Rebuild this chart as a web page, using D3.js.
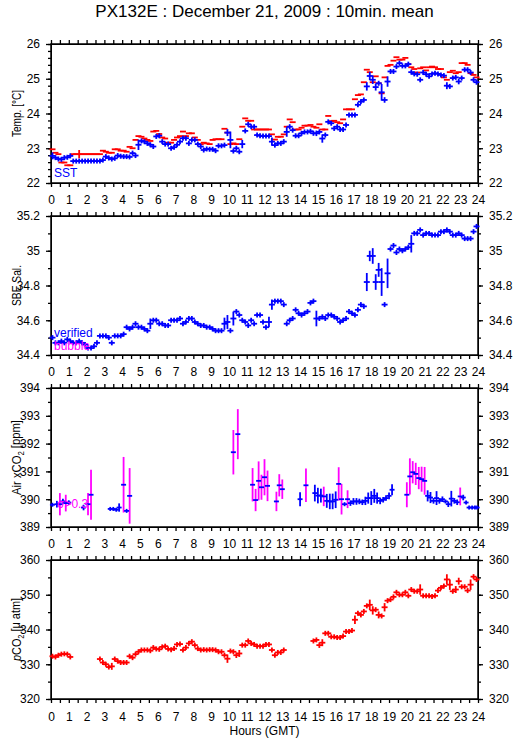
<!DOCTYPE html>
<html>
<head>
<meta charset="utf-8">
<script src="https://cdn.jsdelivr.net/npm/d3@7"></script>
<style>
  body { margin: 0; background: #fff; }
  svg { display: block; font-family: "Liberation Sans", Arial, sans-serif; }
</style>
</head>
<body>
<div id="chart"></div>
<script>
// 10 min means, one value per interval starting at 00:00 (6 per hour)
const sst = [
  22.78, 22.73, 22.69, 22.68, 22.73, 22.74,
  22.78, 22.63, 22.63, 22.63, 22.63, 22.63,
  22.63, 22.63, 22.63, 22.63, 22.63, 22.66,
  22.76, 22.72, 22.69, 22.71, 22.79, 22.77,
  22.76, 22.76, 22.75, 22.86, 22.79, 23.10,
  23.21, 23.19, 23.14, 23.10, 23.05, 23.34,
  23.36, 23.19, 23.12, 23.12, 23.00, 23.03,
  23.10, 23.19, 23.29, 23.29, 23.14, 23.24,
  23.24, 23.12, 23.05, 22.95, 22.98, 22.97,
  22.97, 22.93, 23.07, 23.07, 23.09, 23.45,
  23.24, 22.92, 23.00, 22.90, 23.12, 23.50,
  23.69, 23.62, 23.62, 23.38, 23.36, 23.35,
  23.35, 23.35, 23.19, 23.09, 23.14, 23.14,
  23.19, 23.47, 23.62, 23.52, 23.36, 23.36,
  23.43, 23.47, 23.47, 23.49, 23.43, 23.43,
  23.47, 23.28, 23.38, 23.76, 23.72, 23.57,
  23.62, 23.54, 23.54, 23.67, 23.96, 23.96,
  23.96, 24.25, 24.34, 24.39, 24.78, 25.08,
  24.97, 24.76, 24.87, 24.61, 24.39, 24.92,
  25.21, 25.21, 25.35, 25.45, 25.37, 25.37,
  25.42, 25.19, 25.14, 25.13, 24.97, 25.18,
  25.13, 25.07, 25.14, 25.16, 25.14, 25.11,
  25.09, 24.80, 24.78, 25.02, 25.04, 24.92,
  25.02, 25.26, 25.26, 25.18, 24.97, 24.90
];
const sstErr = [[0, 0.1], [29, 0.15], [59, 0.1], [60, 0.24], [64, 0.12], [74, 0.12],
  [79, 0.14], [89, 0.08], [91, 0.12], [106, 0.12], [107, 0.12], [108, 0.12],
  [109, 0.1], [111, 0.24], [112, 0.08], [113, 0.15], [133, 0.1], [137, 0.08]];

const equTemp = [
  22.97, 22.87, 22.83, 22.59, 22.59, 22.51,
  22.51, 22.83, 22.83, 22.83, 22.83, 22.83,
  22.83, 22.83, 22.83, 22.83, 22.83, 22.93,
  22.90, 22.87, 22.87, 22.97, 22.97, 22.93,
  22.93, 22.90, 23.04, 23.00, 23.24, 23.35,
  23.33, 23.28, 23.24, 23.21, 23.48, 23.50,
  23.41, 23.31, 23.28, 23.16, 23.16, 23.24,
  23.31, 23.35, 23.48, 23.35, 23.43, 23.43,
  23.31, 23.24, 23.12, 23.16, 23.14, 23.12,
  23.24, 23.26, 23.26, 23.26, 23.56, 23.45,
  23.12, 23.14, 23.12, 23.26, 23.62, 23.86,
  23.79, 23.79, 23.54, 23.54, 23.54, 23.54,
  23.54, 23.54, 23.40, 23.25, 23.33, 23.33,
  23.40, 23.62, 23.83, 23.75, 23.54, 23.54,
  23.59, 23.65, 23.65, 23.67, 23.62, 23.59,
  23.69, 23.54, 23.54, 23.93, 23.78, 23.79,
  23.75, 23.72, 23.83, 24.12, 24.12, 24.12,
  24.41, 24.53, 24.55, 24.90, 25.26, 25.19,
  24.90, 25.07, 24.87, 24.58, 25.04, 25.37,
  25.40, 25.52, 25.62, 25.55, 25.55, 25.60,
  25.42, 25.33, 25.28, 25.18, 25.30, 25.33,
  25.24, 25.33, 25.35, 25.33, 25.28, 25.28,
  25.04, 24.97, 25.19, 25.23, 25.16, 25.19,
  25.45, 25.45, 25.40, 25.16, 25.11, 25.04
];
const equErr = [[9, 0.12]];

const salinity = [
  34.50, 34.47, 34.47, 34.48, 34.47, 34.49,
  34.48, 34.47, 34.47, 34.48, 34.47, 34.46,
  34.44, 34.44, 34.45, 34.47, 34.51, 34.51,
  34.51, 34.50, 34.47, 34.51, 34.51, 34.51,
  34.52, 34.56, 34.55, 34.56, 34.58, 34.56,
  34.56, 34.55, 34.54, 34.58, 34.60, 34.60,
  34.58, 34.58, 34.57, 34.57, 34.60, 34.60,
  34.60, 34.61, 34.58, 34.59, 34.61, 34.61,
  34.59, 34.58, 34.57, 34.57, 34.56, 34.56,
  34.55, 34.54, 34.54, 34.54, 34.58, 34.59,
  34.54, 34.61, 34.65, 34.63, 34.60, 34.59,
  34.57, 34.60, 34.58, 34.63, 34.63, 34.59,
  34.56, 34.59, 34.69, 34.71, 34.71, 34.71,
  34.69, 34.58, 34.60, 34.61, 34.66, 34.64,
  34.63, 34.64, 34.65, 34.70, 34.71, 34.61,
  34.61, 34.62, 34.61, 34.63, 34.63, 34.62,
  34.61, 34.59, 34.60, 34.61, 34.65, 34.64,
  34.63, 34.66, 34.69, 34.68, 34.82, 34.97,
  34.97, 34.82, 34.89, 34.82, 34.69, 34.87,
  35.01, 35.03, 34.99, 35.01, 35.00, 35.01,
  35.02, 35.04, 35.10, 35.10, 35.12, 35.09,
  35.10, 35.10, 35.09, 35.09, 35.09, 35.11,
  35.11, 35.12, 35.11, 35.09, 35.09, 35.10,
  35.09, 35.07, 35.07, 35.07, 35.11, 35.14
];
const salErr = [[33, 0.03], [58, 0.035], [59, 0.04], [61, 0.04], [73, 0.03], [74, 0.03],
  [89, 0.045], [106, 0.052], [107, 0.03], [108, 0.045], [109, 0.045], [110, 0.04],
  [111, 0.08], [113, 0.085], [121, 0.05]];

// air xCO2: hour, mean, std dev, bubble flag
const xco2Hours = [0.08, 0.33, 0.5, 0.67, 0.83, 1.0, 1.83, 2.08, 2.25, 3.33, 3.5, 3.67, 3.83,
  4.08, 4.25, 4.42, 10.25, 10.5, 11.33, 11.5, 11.67, 11.83, 12.0, 12.17, 12.67, 12.83, 13.0,
  14.0, 14.33, 14.83, 15.0, 15.17, 15.33, 15.5, 15.67, 15.83, 16.0, 16.17, 16.33, 16.5, 16.67,
  16.83, 17.0, 17.17, 17.33, 17.5, 17.67, 17.83, 18.0, 18.17, 18.33, 18.5, 18.67, 18.83, 19.0,
  19.17, 20.0, 20.17, 20.33, 20.5, 20.67, 20.83, 21.0, 21.17, 21.33, 21.5, 21.67, 21.83, 22.0,
  22.17, 22.33, 22.5, 22.67, 22.83, 23.0, 23.17, 23.33, 23.5, 23.67, 23.83, 23.95];
const xco2Values = [389.80, 389.82, 389.82, 389.92, 389.86, 389.88, 389.70, 389.82, 390.16,
  389.65, 389.65, 389.62, 389.70, 390.52, 389.58, 390.12, 391.69, 392.34, 390.52, 389.97,
  390.66, 390.43, 390.79, 390.48, 389.92, 390.50, 390.36, 390.00, 390.50, 390.22, 390.13,
  390.13, 390.10, 389.94, 389.92, 389.92, 389.98, 390.55, 390.00, 389.82, 390.00, 389.86,
  389.92, 389.92, 389.92, 389.89, 389.94, 390.04, 390.04, 390.12, 390.04, 389.94, 389.98,
  390.04, 390.12, 390.34, 390.16, 390.82, 390.97, 390.91, 390.76, 390.72, 390.66, 390.12,
  390.06, 389.94, 390.04, 389.94, 390.00, 389.92, 389.82, 390.02, 389.94, 389.89, 390.10,
  390.06, 389.88, 389.70, 389.70, 389.70, 389.70];
const xco2Sd = [0.05, 0.12, 0.4, 0.1, 0.3, 0.08, 0.1, 0.4, 0.9, 0.03, 0.05, 0.05, 0.15,
  1.0, 0.05, 1.0, 0.8, 0.9, 0.6, 0.4, 0.7, 0.45, 0.65, 0.55, 0.35, 0.4, 0.35, 0.25, 0.6,
  0.3, 0.28, 0.25, 0.35, 0.25, 0.28, 0.28, 0.3, 0.6, 0.55, 0.05, 0.32, 0.1, 0.12, 0.12,
  0.1, 0.1, 0.15, 0.2, 0.25, 0.25, 0.2, 0.12, 0.1, 0.1, 0.12, 0.2, 0.45, 0.65, 0.4, 0.4,
  0.4, 0.45, 0.5, 0.2, 0.2, 0.1, 0.25, 0.1, 0.1, 0.05, 0.1, 0.28, 0.1, 0.1, 0.32, 0.1,
  0.05, 0.05, 0.05, 0.05, 0.05];
const xco2Bubble = [0, 0, 1, 0, 1, 0, 0, 1, 1, 0, 0, 0, 0, 1, 0, 1, 1, 1, 1, 1, 1, 1, 1, 1,
  1, 1, 1, 0, 1, 0, 0, 0, 1, 0, 0, 0, 0, 1, 1, 0, 1, 0, 0, 0, 0, 0, 0, 0, 0, 0, 0, 0, 0, 0,
  0, 0, 1, 1, 1, 1, 1, 1, 1, 0, 0, 0, 0, 0, 0, 0, 0, 0, 0, 0, 1, 0, 0, 0, 0, 0, 0];

const pco2 = [
  332.3, 332.1, 332.6, 332.9, 333.0, 332.9,
  332.1, null, null, null, null, null,
  null, null, null, null, 331.5, 330.5,
  330.0, 329.2, 329.4, 331.5, 330.9, 330.5,
  330.5, 330.5, 332.3, 331.9, 332.9, 333.6,
  334.1, 334.1, 334.1, 333.9, 334.8, 334.4,
  334.3, 335.0, 335.2, 334.4, 334.2, 334.5,
  335.7, 335.8, 334.1, 334.8, 336.0, 336.5,
  335.5, 334.5, 334.1, 334.2, 334.1, 334.2,
  334.2, 334.1, 333.6, 333.6, 332.6, 331.6,
  333.8, 333.6, 332.6, 333.1, 335.5, 335.5,
  336.7, 336.0, 335.7, 335.2, 335.2, 335.2,
  335.7, 335.7, 334.1, 332.6, 333.4, 333.4,
  334.1, null, null, null, null, null,
  null, null, null, null, 336.7, 337.0,
  335.5, 336.2, 338.9, 338.9, 337.9, 337.9,
  337.7, 337.7, 338.1, 339.4, 339.4, 339.7,
  342.8, 344.7, 344.2, 345.2, 346.8, 347.1,
  345.5, 345.7, 344.2, 343.9, 346.4, 348.3,
  348.6, 349.4, 350.7, 350.0, 350.0, 350.7,
  349.7, 351.5, 351.0, 351.0, 351.5, 349.7,
  349.7, 349.7, 349.5, 349.7, 351.2, 352.0,
  352.5, 354.4, 352.9, 351.0, 351.5, 353.9,
  352.3, 352.3, 351.2, 352.9, 355.2, 354.4
];
const pco2Err = [[20, 1.0], [59, 1.2], [62, 0.8], [63, 1.0], [74, 0.6], [90, 0.8], [91, 1.0],
  [102, 1.2], [107, 1.5], [108, 1.2], [110, 1.0], [112, 1.2], [124, 1.5], [133, 1.5],
  [134, 1.5], [136, 1.0], [137, 1.0], [141, 1.5]];

const hourTicks = d3.range(0, 25);
const halfHourTicks = d3.range(0, 24.01, 0.5);

/** layout */
const width = 515;
const height = 739;
const panelH = 139;
const blue = "#0000ff", red = "#ff0000", magenta = "#ff00ff";

const svg = d3.select("#chart").append("svg")
  .attr("width", width).attr("height", height);

const x = d3.scaleLinear().domain([0, 24]).range([51, 478]);

const panels = [
  { top: 44, domain: [22, 26], major: d3.range(22, 26.01, 1), minor: d3.range(22, 26.01, 0.2),
    fmt: d3.format("d"), topLabels: false },
  { top: 216, domain: [34.4, 35.2], major: d3.range(34.4, 35.21, 0.2), minor: d3.range(34.4, 35.21, 0.1),
    fmt: (d) => String(+d.toFixed(1)), topLabels: true },
  { top: 388, domain: [389, 394], major: d3.range(389, 394.01, 1), minor: d3.range(389, 394.01, 0.5),
    fmt: d3.format("d"), topLabels: true },
  { top: 560, domain: [320, 360], major: d3.range(320, 360.01, 10), minor: d3.range(320, 360.01, 5),
    fmt: d3.format("d"), topLabels: true, bottomLabels: true }
];

panels.forEach((p) => {
  p.y = d3.scaleLinear().domain(p.domain).range([p.top + panelH, p.top]);
  const g = svg.append("g").attr("font-size", 12);

  // x ticks, top and bottom
  g.append("g").attr("transform", `translate(0,${p.top})`)
    .call(d3.axisTop(x).tickValues(halfHourTicks).tickSize(4).tickSizeOuter(0).tickFormat(""));
  g.append("g").attr("transform", `translate(0,${p.top + panelH})`)
    .call(d3.axisBottom(x).tickValues(halfHourTicks).tickSize(4).tickSizeOuter(0).tickFormat(""));
  if (p.topLabels) {
    g.append("g").attr("transform", `translate(0,${p.top})`)
      .call(d3.axisTop(x).tickValues(hourTicks).tickSize(0).tickPadding(12).tickFormat(d3.format("d")))
      .call((a) => a.select(".domain").remove());
  }
  if (p.bottomLabels) {
    g.append("g").attr("transform", `translate(0,${p.top + panelH})`)
      .call(d3.axisBottom(x).tickValues(hourTicks).tickSize(0).tickPadding(13).tickFormat(d3.format("d")))
      .call((a) => a.select(".domain").remove());
  }

  // y ticks, left and right
  g.append("g").attr("transform", `translate(${x(0)},0)`)
    .call(d3.axisLeft(p.y).tickValues(p.minor).tickSize(3).tickSizeOuter(0).tickFormat(""));
  g.append("g").attr("transform", `translate(${x(0)},0)`)
    .call(d3.axisLeft(p.y).tickValues(p.major).tickSize(5).tickSizeOuter(0).tickPadding(6).tickFormat(p.fmt));
  g.append("g").attr("transform", `translate(${x(24)},0)`)
    .call(d3.axisRight(p.y).tickValues(p.minor).tickSize(3).tickSizeOuter(0).tickFormat(""));
  g.append("g").attr("transform", `translate(${x(24)},0)`)
    .call(d3.axisRight(p.y).tickValues(p.major).tickSize(5).tickSizeOuter(0).tickPadding(6).tickFormat(p.fmt));

  g.selectAll(".tick text").attr("fill", "#000").attr("font-family", "'Liberation Sans', Arial, sans-serif").attr("font-size", 12);
  g.selectAll(".tick line").attr("stroke", "#000").attr("stroke-width", 1.3);

  // frame
  g.append("rect")
    .attr("x", x(0)).attr("y", p.top)
    .attr("width", x(24) - x(0)).attr("height", panelH)
    .attr("fill", "none").attr("stroke", "#000").attr("stroke-width", 1.5);

  p.layer = svg.append("g");
});

/** plain text labels (drawn under the data) */
const legend = svg.append("g").attr("font-size", 12);
legend.append("text").attr("x", 54).attr("y", 177).attr("fill", blue).text("SST");
legend.append("text").attr("x", 54).attr("y", 337).attr("fill", blue).text("verified");
legend.append("text").attr("x", 54).attr("y", 350).attr("fill", magenta).text("bubble");
legend.append("text").attr("x", 57).attr("y", 508).attr("fill", magenta).text("σ>0.3");

/** draws one "+" per 10 min mean: interval dash + std dev bar */
const drawSeries = (panel, values, errs, opts) => {
  const errMap = new Map(errs);
  const pts = values
    .map((v, i) => ({ t: opts.hours ? opts.hours[i] : (i + 0.5) / 6, v, sd: errMap.get(i) || 0, i }))
    .filter((d) => d.v != null);
  const y = panel.y;
  const layer = panel.layer;
  layer.selectAll(null).data(pts).join("line")
    .attr("x1", (d) => x(d.t)).attr("x2", (d) => x(d.t))
    .attr("y1", (d) => Math.min(y(d.v + d.sd), y(d.v) - opts.minHalf))
    .attr("y2", (d) => Math.max(y(d.v - d.sd), y(d.v) + opts.minHalf))
    .attr("stroke", (d) => (opts.barColor ? opts.barColor(d) : opts.color))
    .attr("stroke-width", 1.8)
    .attr("display", (d) => (opts.minHalf === 0 && d.sd === 0 ? "none" : null));
  layer.selectAll(null).data(pts).join("line")
    .attr("x1", (d) => x(d.t) - opts.halfW).attr("x2", (d) => x(d.t) + opts.halfW)
    .attr("y1", (d) => y(d.v)).attr("y2", (d) => y(d.v))
    .attr("stroke", opts.color).attr("stroke-width", 1.8);
};

drawSeries(panels[0], equTemp, equErr, { color: red, minHalf: 0, halfW: 3 });
drawSeries(panels[0], sst, sstErr, { color: blue, minHalf: 2.5, halfW: 3 });
drawSeries(panels[1], salinity, salErr, { color: blue, minHalf: 2.5, halfW: 3 });
drawSeries(panels[2], xco2Values, xco2Sd.map((s, i) => [i, s]), {
  color: blue, minHalf: 2, halfW: 2.5, hours: xco2Hours,
  barColor: (d) => (xco2Bubble[d.i] ? magenta : blue)
});
drawSeries(panels[3], pco2, pco2Err, { color: red, minHalf: 2.5, halfW: 3 });

/** titles */
svg.append("text")
  .attr("x", 264.5).attr("y", 17).attr("text-anchor", "middle")
  .attr("font-size", 17).text("PX132E : December 21, 2009 : 10min. mean");

svg.append("text")
  .attr("x", 264.5).attr("y", 735).attr("text-anchor", "middle")
  .attr("font-size", 12).text("Hours (GMT)");

const yTitle = (p, build, len) => {
  const t = svg.append("text")
    .attr("transform", `translate(21,${p.top + panelH / 2}) rotate(-90)`)
    .attr("text-anchor", "middle").attr("font-size", 13);
  if (len) t.attr("textLength", len).attr("lengthAdjust", "spacingAndGlyphs");
  build(t);
};
yTitle(panels[0], (t) => t.text("Temp. [°C]"), 47);
yTitle(panels[1], (t) => t.text("SBE Sal."), 41);
yTitle(panels[2], (t) => {
  t.append("tspan").text("Air xCO");
  t.append("tspan").attr("font-size", 9).attr("dy", "0.35em").text("2");
  t.append("tspan").attr("dy", "-0.3em").text(" [ppm]");
}, 75);
yTitle(panels[3], (t) => {
  t.append("tspan").attr("font-style", "italic").text("p");
  t.append("tspan").text("CO");
  t.append("tspan").attr("font-size", 9).attr("dy", "0.35em").text("2");
  t.append("tspan").attr("dy", "-0.3em").text(" [μ atm]");
}, 63);
</script>
</body>
</html>
